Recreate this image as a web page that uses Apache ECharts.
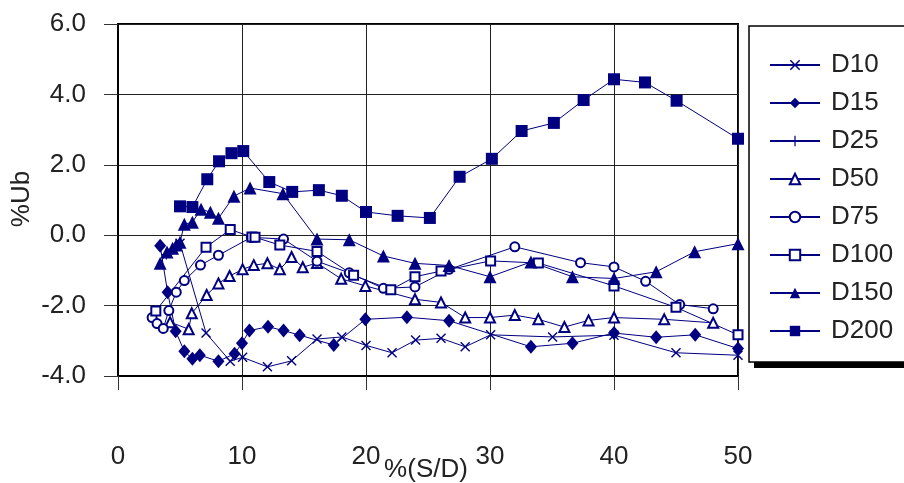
<!DOCTYPE html>
<html>
<head>
<meta charset="utf-8">
<script src="https://cdn.jsdelivr.net/npm/echarts@6/dist/echarts.min.js"></script>
<style>html,body{margin:0;padding:0;background:#fff;}#c{width:904px;height:483px;}</style>
</head>
<body>
<div id="c"></div>
<script>
const seriesNames = ['D10','D15','D25','D50','D75','D100','D150','D200'];
const xTicks = [0,10,20,30,40,50];
const yTicks = [-4,-2,0,2,4,6];

const xD10 = [5.0,7.1,9.05,10.05,12.05,14.0,16.05,18.05,20.0,22.1,24.0,26.05,28.0,30.05,35.05,40.0,45.0,50.0];
const yD10 = [-0.23,-2.78,-3.58,-3.47,-3.74,-3.57,-2.95,-2.89,-3.13,-3.34,-2.98,-2.93,-3.17,-2.83,-2.89,-2.84,-3.34,-3.41];

const xD15 = [3.4,4.0,4.65,5.35,6.0,6.6,8.1,9.4,10.0,10.6,12.1,13.35,14.65,17.4,19.95,23.3,26.7,33.3,36.65,40.0,43.4,46.55,50.0];
const yD15 = [-0.30,-1.62,-2.73,-3.30,-3.51,-3.41,-3.58,-3.37,-3.07,-2.71,-2.60,-2.71,-2.84,-3.12,-2.39,-2.33,-2.43,-3.17,-3.07,-2.78,-2.90,-2.83,-3.22];

const xD25 = [3.9,4.4,4.85];
const yD25 = [-0.55,-0.40,-0.30];

const xD50 = [4.2,5.7,5.95,7.15,8.1,9.0,10.05,10.95,12.05,13.05,14.0,14.9,16.05,18.0,19.95,23.95,26.05,28.0,30.0,32.0,33.9,36.0,37.95,40.0,44.05,48.0];
const yD50 = [-2.47,-2.67,-2.22,-1.70,-1.37,-1.16,-0.97,-0.85,-0.80,-0.97,-0.62,-0.91,-0.79,-1.24,-1.44,-1.82,-1.91,-2.34,-2.34,-2.27,-2.39,-2.61,-2.42,-2.34,-2.39,-2.49];

const xD75 = [2.75,3.15,3.65,4.1,4.7,5.35,6.65,8.1,10.75,13.35,16.05,18.65,21.4,23.95,26.7,32.0,37.3,40.0,42.55,45.3,48.0];
const yD75 = [-2.34,-2.51,-2.65,-2.14,-1.62,-1.29,-0.85,-0.57,-0.06,-0.11,-0.74,-1.07,-1.51,-1.47,-0.97,-0.33,-0.78,-0.90,-1.31,-1.97,-2.09];

const xD100 = [3.05,7.1,9.05,10.8,11.05,13.05,16.05,19.0,22.0,23.95,26.05,30.05,33.9,40.0,45.0,50.0];
const yD100 = [-2.15,-0.34,0.16,-0.05,-0.06,-0.28,-0.46,-1.14,-1.55,-1.18,-1.02,-0.73,-0.79,-1.44,-2.05,-2.83];

const xD150 = [3.4,3.95,4.4,4.7,5.0,5.35,6.0,6.7,7.45,8.1,9.35,10.65,13.3,16.05,18.65,21.4,23.95,26.7,30.0,33.3,36.65,40.0,43.4,46.5,50.0];
const yD150 = [-0.80,-0.48,-0.37,-0.28,-0.20,0.31,0.37,0.74,0.65,0.48,1.11,1.34,1.18,-0.11,-0.13,-0.59,-0.80,-0.86,-1.18,-0.76,-1.18,-1.23,-1.04,-0.47,-0.24];

const xD200 = [5.0,6.0,7.2,8.15,9.15,10.1,12.2,14.05,16.2,18.05,20.0,22.55,25.15,27.55,30.15,32.55,35.15,37.55,40.0,42.5,45.05,50.0];
const yD200 = [0.82,0.80,1.59,2.10,2.33,2.39,1.51,1.23,1.28,1.12,0.66,0.55,0.49,1.66,2.17,2.96,3.19,3.84,4.43,4.34,3.82,2.74];

const xs = [xD10,xD15,xD25,xD50,xD75,xD100,xD150,xD200];
const ys = [yD10,yD15,yD25,yD50,yD75,yD100,yD150,yD200];

const NAVY = '#000080';
const FONT = 'Liberation Sans';
const crossPath = 'path://M0,1 L1,0 L5,4 L9,0 L10,1 L6,5 L10,9 L9,10 L5,6 L1,10 L0,9 L4,5 Z';
const plusPath = 'path://M4.4,0 H5.6 V4.4 H10 V5.6 H5.6 V10 H4.4 V5.6 H0 V4.4 H4.4 Z';
const symbols = [crossPath,'diamond',plusPath,'emptyTriangle','emptyCircle','emptyRect','triangle','rect'];
const sizes = [10,[12,14],10,10,9,9,13,12];

const series = seriesNames.map((n,i)=>({
  name:n,
  type:'line',
  data: xs[i].map((x,j)=>[x, ys[i][j]]),
  symbol: symbols[i],
  symbolSize: sizes[i],
  showAllSymbol: true,
  clip: false,
  lineStyle:{color:NAVY,width:1},
  itemStyle:{color:NAVY,borderColor:NAVY,borderWidth: symbols[i].indexOf('empty')===0 ? 1.5 : 0},
  animation:false
}));

const chart = echarts.init(document.getElementById('c'));
chart.setOption({
  animation:false,
  backgroundColor:'#fff',
  grid:{left:118, top:24, width:620, height:352, show:true, borderColor:'#000', borderWidth:2, backgroundColor:'transparent'},
  xAxis:{
    type:'value', min:xTicks[0], max:xTicks[xTicks.length-1], interval:10,
    axisLine:{show:true, onZero:false, lineStyle:{color:'#000', width:2}},
    axisTick:{show:true, inside:false, length:14, lineStyle:{color:'#333', width:1}},
    splitLine:{show:true, lineStyle:{color:'#222', width:1}},
    axisLabel:{margin:68, fontFamily:FONT, fontSize:26, color:'#222'}
  },
  yAxis:{
    type:'value', min:yTicks[0], max:yTicks[yTicks.length-1], interval:2,
    axisLine:{show:true, onZero:false, lineStyle:{color:'#000', width:2}},
    axisTick:{show:true, inside:false, length:14, lineStyle:{color:'#333', width:1}},
    splitLine:{show:true, lineStyle:{color:'#222', width:1}},
    axisLabel:{margin:32, fontFamily:FONT, fontSize:26, color:'#222', formatter:v=>v.toFixed(1)}
  },
  legend:{
    orient:'vertical', left:769, top:51, padding:0,
    itemWidth:50, itemHeight:13, itemGap:10,
    selectedMode:false,
    data:seriesNames,
    textStyle:{fontFamily:FONT, fontSize:26, color:'#222', lineHeight:28, padding:[0,0,0,6]},
    z:10
  },
  graphic:[
    {type:'rect', shape:{x:754, y:31, width:200, height:337}, style:{fill:'#000'}, z:1},
    {type:'rect', shape:{x:749, y:26, width:200, height:336}, style:{fill:'#fff', stroke:'#000', lineWidth:1.5}, z:2},
    {type:'text', x:426, y:470, style:{text:'%(S/D)', fontFamily:FONT, fontSize:26, fill:'#222', textAlign:'center', textVerticalAlign:'middle'}},
    {type:'text', x:22, y:199, rotation:Math.PI/2, style:{text:'%Ub', fontFamily:FONT, fontSize:26, fill:'#222', textAlign:'center', textVerticalAlign:'middle'}}
  ],
  series:series
});
</script>
</body>
</html>
